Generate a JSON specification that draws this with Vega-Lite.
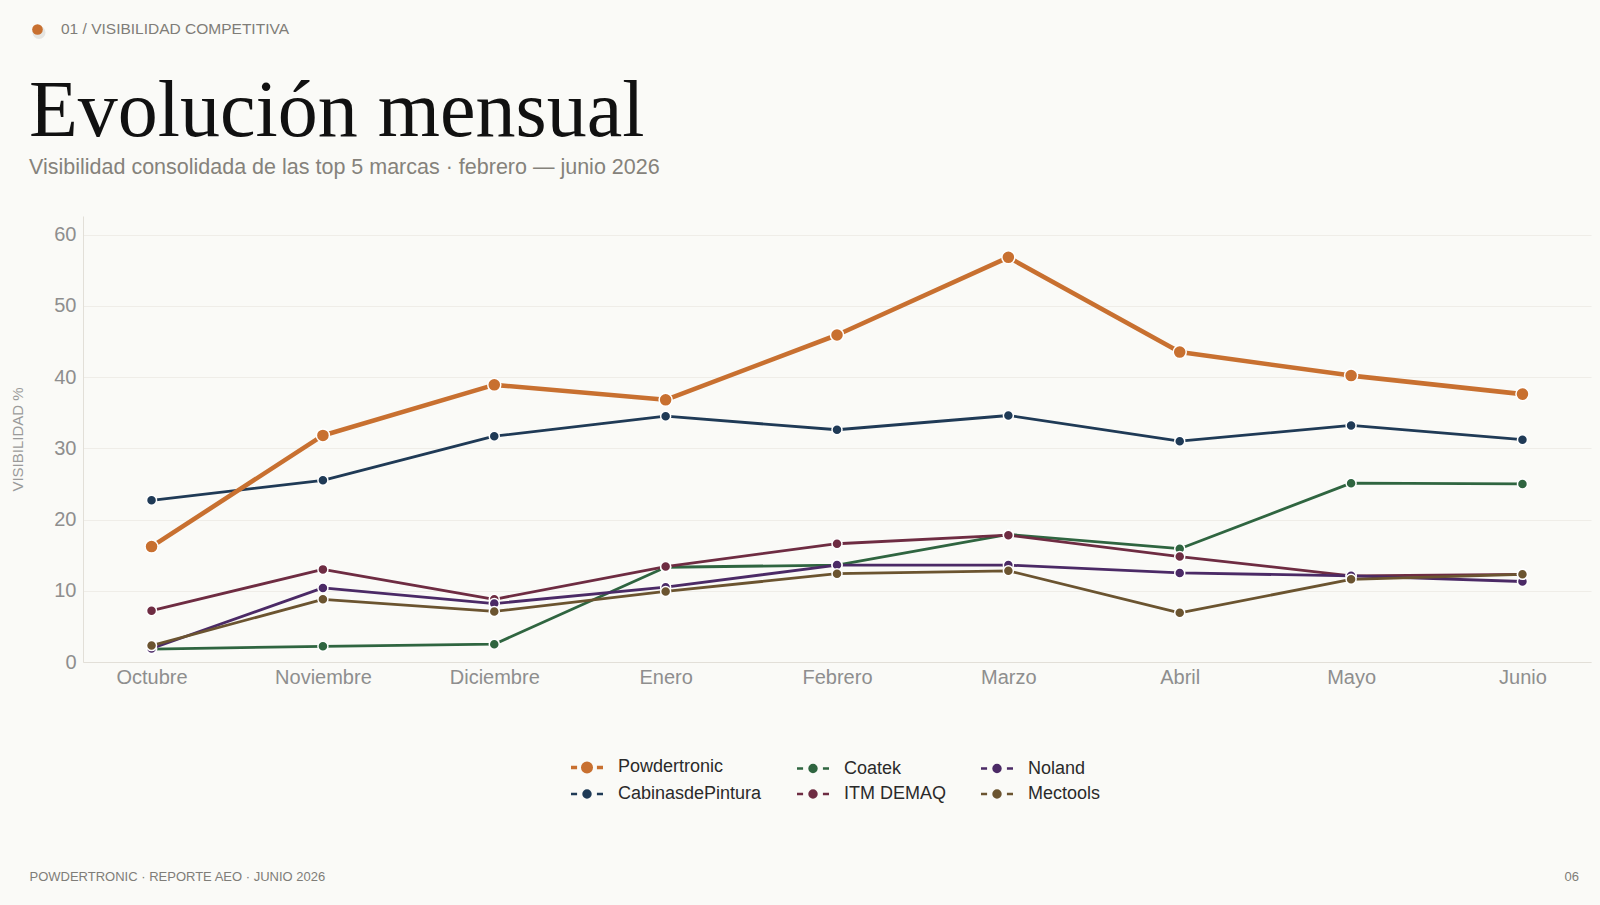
{
  "$schema": "https://vega.github.io/schema/vega-lite/v6.json",
  "autosize": {"type": "none"},
  "width": 1508,
  "height": 446,
  "padding": {"left": 83, "top": 216, "right": 9, "bottom": 243},
  "background": "#FAFAF7",
  "config": {
    "view": {"stroke": null},
    "axis": {
      "labelFont": "Liberation Sans",
      "labelFontSize": 20,
      "labelColor": "#8e8e8e",
      "domainColor": "#e2dfd8",
      "gridColor": "#efede8",
      "ticks": false,
      "titleFont": "Liberation Sans",
      "titleFontWeight": "normal"
    }
  },
  "data": {
    "values": [
      {"mes": "Octubre", "marca": "CabinasdePintura", "v": 22.7},
      {"mes": "Noviembre", "marca": "CabinasdePintura", "v": 25.5},
      {"mes": "Diciembre", "marca": "CabinasdePintura", "v": 31.7},
      {"mes": "Enero", "marca": "CabinasdePintura", "v": 34.5},
      {"mes": "Febrero", "marca": "CabinasdePintura", "v": 32.6},
      {"mes": "Marzo", "marca": "CabinasdePintura", "v": 34.6},
      {"mes": "Abril", "marca": "CabinasdePintura", "v": 31.0},
      {"mes": "Mayo", "marca": "CabinasdePintura", "v": 33.2},
      {"mes": "Junio", "marca": "CabinasdePintura", "v": 31.2},
      {"mes": "Octubre", "marca": "Coatek", "v": 1.8},
      {"mes": "Noviembre", "marca": "Coatek", "v": 2.2},
      {"mes": "Diciembre", "marca": "Coatek", "v": 2.5},
      {"mes": "Enero", "marca": "Coatek", "v": 13.3},
      {"mes": "Febrero", "marca": "Coatek", "v": 13.6},
      {"mes": "Marzo", "marca": "Coatek", "v": 17.9},
      {"mes": "Abril", "marca": "Coatek", "v": 15.9},
      {"mes": "Mayo", "marca": "Coatek", "v": 25.1},
      {"mes": "Junio", "marca": "Coatek", "v": 25.0},
      {"mes": "Octubre", "marca": "ITM DEMAQ", "v": 7.2},
      {"mes": "Noviembre", "marca": "ITM DEMAQ", "v": 13.0},
      {"mes": "Diciembre", "marca": "ITM DEMAQ", "v": 8.8},
      {"mes": "Enero", "marca": "ITM DEMAQ", "v": 13.4},
      {"mes": "Febrero", "marca": "ITM DEMAQ", "v": 16.6},
      {"mes": "Marzo", "marca": "ITM DEMAQ", "v": 17.8},
      {"mes": "Abril", "marca": "ITM DEMAQ", "v": 14.8},
      {"mes": "Mayo", "marca": "ITM DEMAQ", "v": 12.1},
      {"mes": "Junio", "marca": "ITM DEMAQ", "v": 12.3},
      {"mes": "Octubre", "marca": "Noland", "v": 1.9},
      {"mes": "Noviembre", "marca": "Noland", "v": 10.4},
      {"mes": "Diciembre", "marca": "Noland", "v": 8.2},
      {"mes": "Enero", "marca": "Noland", "v": 10.5},
      {"mes": "Febrero", "marca": "Noland", "v": 13.6},
      {"mes": "Marzo", "marca": "Noland", "v": 13.6},
      {"mes": "Abril", "marca": "Noland", "v": 12.5},
      {"mes": "Mayo", "marca": "Noland", "v": 12.1},
      {"mes": "Junio", "marca": "Noland", "v": 11.3},
      {"mes": "Octubre", "marca": "Mectools", "v": 2.3},
      {"mes": "Noviembre", "marca": "Mectools", "v": 8.8},
      {"mes": "Diciembre", "marca": "Mectools", "v": 7.1},
      {"mes": "Enero", "marca": "Mectools", "v": 9.9},
      {"mes": "Febrero", "marca": "Mectools", "v": 12.4},
      {"mes": "Marzo", "marca": "Mectools", "v": 12.8},
      {"mes": "Abril", "marca": "Mectools", "v": 6.9},
      {"mes": "Mayo", "marca": "Mectools", "v": 11.6},
      {"mes": "Junio", "marca": "Mectools", "v": 12.3},
      {"mes": "Octubre", "marca": "Powdertronic", "v": 16.2},
      {"mes": "Noviembre", "marca": "Powdertronic", "v": 31.8},
      {"mes": "Diciembre", "marca": "Powdertronic", "v": 38.9},
      {"mes": "Enero", "marca": "Powdertronic", "v": 36.8},
      {"mes": "Febrero", "marca": "Powdertronic", "v": 45.9},
      {"mes": "Marzo", "marca": "Powdertronic", "v": 56.8},
      {"mes": "Abril", "marca": "Powdertronic", "v": 43.5},
      {"mes": "Mayo", "marca": "Powdertronic", "v": 40.2},
      {"mes": "Junio", "marca": "Powdertronic", "v": 37.6}
    ]
  },
  "layer": [
    {
      "mark": {"type": "line", "strokeJoin": "round", "strokeCap": "round"},
      "encoding": {
        "x": {
          "field": "mes", "type": "ordinal",
          "sort": ["Octubre", "Noviembre", "Diciembre", "Enero", "Febrero", "Marzo", "Abril", "Mayo", "Junio"],
          "scale": {"type": "point", "padding": 0.4},
          "axis": {"title": null, "labelAngle": 0, "labelPadding": 5, "grid": false, "domain": true}
        },
        "y": {
          "field": "v", "type": "quantitative",
          "scale": {"domain": [0, 62.6], "nice": false, "zero": true},
          "axis": {"title": "VISIBILIDAD %", "titleFontSize": 15, "titleColor": "#9a9a9a", "titlePadding": 28, "values": [0, 10, 20, 30, 40, 50, 60], "labelPadding": 7, "grid": true, "domain": true}
        },
        "color": {
          "field": "marca", "type": "nominal",
          "scale": {
            "domain": ["Powdertronic", "CabinasdePintura", "Coatek", "ITM DEMAQ", "Noland", "Mectools"],
            "range": ["#C87030", "#1F3A56", "#2F6540", "#6E2C42", "#4B2A66", "#6B5430"]
          },
          "legend": {
            "orient": "none",
            "legendX": 495,
            "legendY": 542,
            "columns": 3,
            "columnPadding": 30,
            "rowPadding": 6,
            "title": null,
            "labelFont": "Liberation Sans",
            "labelFontSize": 18,
            "labelColor": "#2a2a2a",
            "labelOffset": 22,
            "symbolSize": 1024,
            "symbolStrokeWidth": {"expr": "datum.value === 'Powdertronic' ? 3.4 : 2.4"},
            "symbolType": {"expr": "datum.value === 'Powdertronic' ? 'M-1,0L-0.62,0M0.62,0L1,0M0.27,0A0.27,0.27 0 1 1 -0.27,0A0.27,0.27 0 1 1 0.27,0' : 'M-1,0L-0.62,0M0.62,0L1,0M0.22,0A0.22,0.22 0 1 1 -0.22,0A0.22,0.22 0 1 1 0.22,0'"}
          }
        },
        "strokeWidth": {"condition": {"test": "datum.marca === 'Powdertronic'", "value": 4.6}, "value": 2.8}
      }
    },
    {
      "mark": {"type": "point", "filled": true, "opacity": 1, "stroke": "#ffffff", "strokeWidth": 1.5},
      "encoding": {
        "x": {"field": "mes", "type": "ordinal", "sort": ["Octubre", "Noviembre", "Diciembre", "Enero", "Febrero", "Marzo", "Abril", "Mayo", "Junio"]},
        "y": {"field": "v", "type": "quantitative"},
        "color": {"field": "marca", "type": "nominal"},
        "size": {"condition": {"test": "datum.marca === 'Powdertronic'", "value": 170}, "value": 100}
      }
    },
    {
      "data": {"values": [{"k": "shadow"}]},
      "mark": {"type": "point", "filled": true, "color": "#9a9a9a", "opacity": 0.22, "size": 170},
      "encoding": {"x": {"value": -44}, "y": {"value": -183.5}}
    },
    {
      "data": {"values": [{"k": "dot"}]},
      "mark": {"type": "point", "filled": true, "color": "#C87030", "opacity": 1, "size": 113},
      "encoding": {"x": {"value": -45.5}, "y": {"value": -186.5}}
    },
    {
      "data": {"values": [{"t": "01 / VISIBILIDAD COMPETITIVA"}]},
      "mark": {"type": "text", "font": "Liberation Sans", "fontSize": 15.5, "color": "#7f7d78", "align": "left", "baseline": "alphabetic"},
      "encoding": {"text": {"field": "t"}, "x": {"value": -22}, "y": {"value": -182.5}}
    },
    {
      "data": {"values": [{"t": "Evolución mensual"}]},
      "mark": {"type": "text", "font": "Liberation Serif", "fontSize": 80, "color": "#111111", "align": "left", "baseline": "alphabetic"},
      "encoding": {"text": {"field": "t"}, "x": {"value": -54}, "y": {"value": -80}}
    },
    {
      "data": {"values": [{"t": "Visibilidad consolidada de las top 5 marcas · febrero — junio 2026"}]},
      "mark": {"type": "text", "font": "Liberation Sans", "fontSize": 21.5, "color": "#85827b", "align": "left", "baseline": "alphabetic"},
      "encoding": {"text": {"field": "t"}, "x": {"value": -54}, "y": {"value": -42}}
    },
    {
      "data": {"values": [{"t": "POWDERTRONIC · REPORTE AEO · JUNIO 2026"}]},
      "mark": {"type": "text", "font": "Liberation Sans", "fontSize": 13, "color": "#7f7d78", "align": "left", "baseline": "alphabetic"},
      "encoding": {"text": {"field": "t"}, "x": {"value": -53.5}, "y": {"value": 665}}
    },
    {
      "data": {"values": [{"t": "06"}]},
      "mark": {"type": "text", "font": "Liberation Sans", "fontSize": 13, "color": "#7f7d78", "align": "right", "baseline": "alphabetic"},
      "encoding": {"text": {"field": "t"}, "x": {"value": 1496}, "y": {"value": 665}}
    }
  ]
}
